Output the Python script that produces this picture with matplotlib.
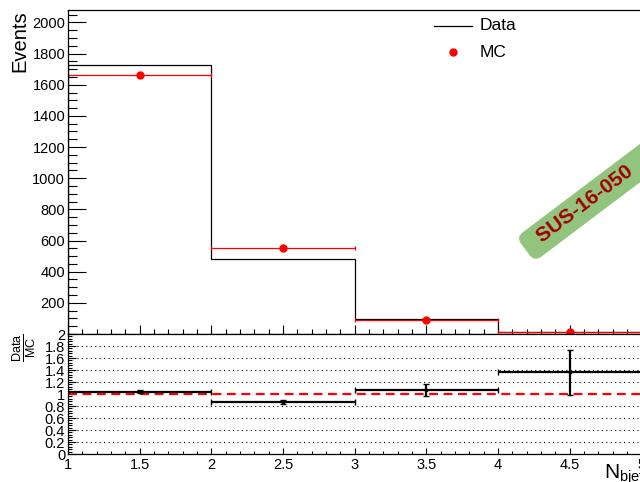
import matplotlib
matplotlib.use("Agg")
import matplotlib.pyplot as plt
from matplotlib.ticker import MultipleLocator, FormatStrFormatter
from matplotlib.lines import Line2D
import numpy as np

plt.rcParams['font.family'] = ['Liberation Sans', 'DejaVu Sans']
plt.rcParams['mathtext.fontset'] = 'custom'
plt.rcParams['mathtext.rm'] = 'Liberation Sans'
plt.rcParams['mathtext.it'] = 'Liberation Sans'

# bin edges of N_bjets and read-off values
bin_edges = [1, 2, 3, 4, 5]
data_counts = [1729, 483, 94, 15]
mc_counts = [1664, 554, 91, 11]
ratio = [1.04, 0.87, 1.06, 1.36]
ratio_err = [0.03, 0.03, 0.10, 0.38]

edges = np.array(bin_edges, dtype=float)
centers = 0.5 * (edges[:-1] + edges[1:])
halfw = 0.5 * np.diff(edges)

fig = plt.figure(figsize=(6.4, 4.82), dpi=100)
W, H = 640.0, 482.0
ax = fig.add_axes([68 / W, 1 - 334 / H, 1.002 - 68 / W, (334 - 10) / H])
rax = fig.add_axes([68 / W, 1 - 454 / H, 1.002 - 68 / W, (454 - 334) / H], sharex=ax)

# top panel
ax.stairs(data_counts, edges, color='black', lw=0.9)
ax.errorbar(centers, mc_counts, xerr=halfw, fmt='o', color='red', ms=5,
            elinewidth=0.9, capsize=1.5, capthick=0.9)
ax.set_xlim(1, 5)
ax.set_ylim(0, 2080)
ax.yaxis.set_major_locator(MultipleLocator(200))
ax.yaxis.set_minor_locator(MultipleLocator(50))
ax.xaxis.set_major_locator(MultipleLocator(0.5))
ax.xaxis.set_minor_locator(MultipleLocator(0.1))
ax.tick_params(axis='y', which='major', direction='in', length=13, width=0.8, labelsize=10.5, pad=2)
ax.tick_params(axis='y', which='minor', direction='in', length=6.5, width=0.8)
ax.tick_params(axis='x', which='major', direction='in', length=6.5, width=0.8, labelbottom=False)
ax.tick_params(axis='x', which='minor', direction='in', length=3.3, width=0.8)
ax.set_yticks(np.arange(200, 2001, 200))
ax.spines['right'].set_visible(False)
for s in ax.spines.values():
    s.set_linewidth(0.9)

# ratio panel
for g in [0.2, 0.4, 0.6, 0.8, 1.2, 1.4, 1.6, 1.8]:
    rax.axhline(g, color='black', ls=(0, (1, 3)), lw=0.8)
rax.axhline(1.0, color='red', ls=(0, (4, 2.5)), lw=1.6)
rax.errorbar(centers, ratio, xerr=halfw, yerr=ratio_err, fmt='s', color='black',
             ms=2, elinewidth=1.6, capsize=2.5, capthick=1.0)
rax.set_ylim(0, 2)
rax.yaxis.set_major_locator(MultipleLocator(0.2))
rax.yaxis.set_minor_locator(MultipleLocator(0.04))
rax.yaxis.set_major_formatter(FormatStrFormatter('%g'))
rax.xaxis.set_major_formatter(FormatStrFormatter('%g'))
rax.tick_params(axis='y', which='major', direction='in', length=6, width=0.8, labelsize=10.5, pad=2)
rax.tick_params(axis='y', which='minor', direction='in', length=3, width=0.8)
rax.tick_params(axis='x', which='major', direction='in', length=4, width=0.8, labelsize=10.5, pad=3)
rax.tick_params(axis='x', which='minor', direction='in', length=2.2, width=0.8)
rax.spines['right'].set_visible(False)
for s in rax.spines.values():
    s.set_linewidth(0.9)

# axis titles
fig.text(29 / W, 1 - 10 / H, 'Events', rotation=90, ha='right', va='top', fontsize=14.5)
fig.text(38 / W, 1 - 333 / H, r'$\frac{\mathrm{Data}}{\mathrm{MC}}$', rotation=90,
         ha='right', va='top', fontsize=13)
fig.text(604 / W, 1 - 479 / H, r'N$_{\mathrm{bjets}}$', ha='left', va='baseline', fontsize=15)

# legend
fig.add_artist(Line2D([434 / W, 472 / W], [1 - 26 / H, 1 - 26 / H], color='black', lw=0.9))
fig.add_artist(Line2D([453 / W], [1 - 52 / H], marker='o', color='red', ms=5))
fig.text(480 / W, 1 - 26 / H, 'Data', ha='left', va='center', fontsize=12.5)
fig.text(480 / W, 1 - 52 / H, 'MC', ha='left', va='center', fontsize=12.5)

# analysis label
fig.text(530 / W, 1 - 246 / H, '  SUS-16-050               ', rotation=37,
         rotation_mode='anchor', ha='left', va='center', fontsize=15,
         fontweight='bold', color='#a00000',
         bbox=dict(boxstyle='round,pad=0.28,rounding_size=0.4', fc='#93c47d', ec='none'))

fig.savefig('out.png', dpi=100)
